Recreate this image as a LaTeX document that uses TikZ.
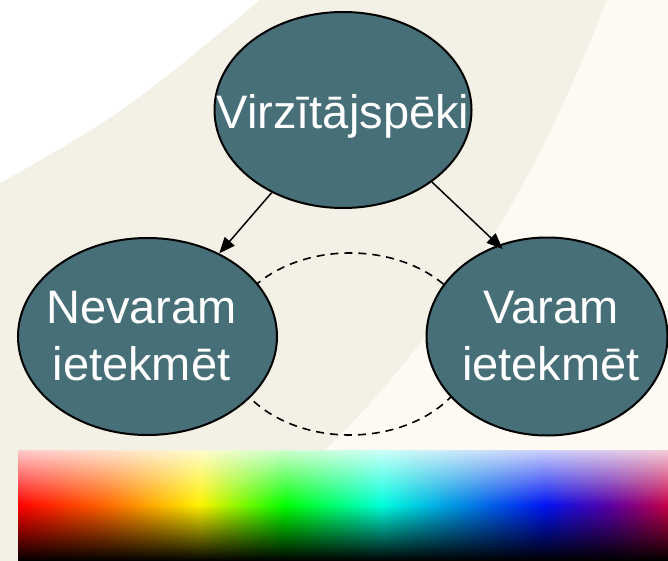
\documentclass[tikz,border=0pt]{standalone}
\usepackage{fontspec}
\setmainfont{Liberation Sans}
\usepackage{tikz}
\usetikzlibrary{shapes.geometric,arrows.meta,fadings}
\usepackage{xcolor}

\definecolor{cream}{HTML}{F3F1E6}
\definecolor{paper}{HTML}{FCFAF3}
\definecolor{slate}{HTML}{476F77}

\pgfdeclarehorizontalshading{spectrum}{100bp}{
	rgb(0bp)=(1,0,0); rgb(25bp)=(1,0,0); rgb(32bp)=(1,0.42,0);
	rgb(39bp)=(1,0.95,0); rgb(45.5bp)=(0,1,0); rgb(53bp)=(0,1,0.87);
	rgb(59bp)=(0,0.55,0.9); rgb(65.5bp)=(0,0.08,0.95); rgb(70.5bp)=(0.35,0,0.65);
	rgb(75bp)=(0.78,0,0.28); rgb(100bp)=(0.78,0,0.28)}

\tikzset{
	spek/.style={ellipse,draw=black,line width=1pt,fill=slate,inner sep=0pt},
	txt/.style={text=white,align=center,font=\fontsize{23.5pt}{28.5pt}\selectfont},
	arr/.style={-{Triangle[length=8pt,width=6.5pt]},line width=0.75pt}
}

\begin{document}
\begin{tikzpicture}[x=0.5pt,y=-0.5pt]
	\useasboundingbox (0,0) rectangle (668,561);

	% backdrop
	\fill[cream] (0,0) rectangle (668,561);
	\fill[white] (0,0) -- (260,0) .. controls (120,115) .. (0,183) -- cycle;
	\fill[paper] (607,0) .. controls (560,120) and (480,300) .. (325,450) -- (300,561) -- (668,561) -- (668,0) -- cycle;

	% colour band (y runs downwards, so the fadings are swapped)
	\fill[shading=spectrum] (18,450) rectangle (668,561);
	\fill[white,fill opacity=0.8,path fading=south] (18,450) rectangle (668,505);
	\fill[black,path fading=north] (18,505) rectangle (668,561);

	\draw[line width=0.8pt,dash pattern=on 4pt off 3pt] (350,344) ellipse [x radius=124,y radius=91];

	\node[spek,minimum width=128.5pt,minimum height=98pt,label={[txt,yshift=-3pt]center:Virzītājspēki}] (top) at (343,110) {};
	\node[spek,minimum width=129.5pt,minimum height=98.5pt,label={[txt,xshift=-3pt]center:{Nevaram\\ietekmēt}}] (nev) at (147.5,336.5) {};
	\node[spek,minimum width=120.5pt,minimum height=99pt,label={[txt,xshift=2pt]center:{Varam\\ietekmēt}}] (var) at (547,336.5) {};

	\draw[arr] (top) -- (nev);
	\draw[arr,shorten >=-3pt] (top.321) -- (var.118);
\end{tikzpicture}
\end{document}
